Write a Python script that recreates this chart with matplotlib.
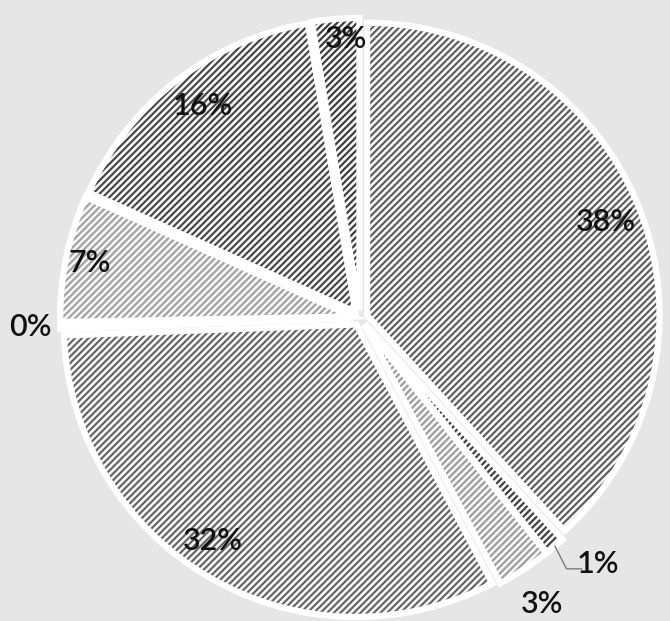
import numpy as np
import matplotlib
matplotlib.use("Agg")
import matplotlib.pyplot as plt

# slice values (per cent), clockwise from 12 o'clock
shares = [38.2, 1.1, 3.0, 32.1, 0.3, 7.0, 15.7, 2.6]
labels = ["38%", "1%", "3%", "32%", "0%", "7%", "16%", "3%"]
hatch_colors = ["#5a5a5a", "#3c3c3c", "#9a9a9a", "#626262",
                "#6a6a6a", "#a0a0a0", "#424242", "#383838"]
# label placement: fraction of the radius, plus an angle nudge in degrees
label_r = [0.88, 1.14, 1.13, 0.89, 1.10, 0.92, 0.88, 0.93]
label_nudge = [0, 3.5, -0.7, -3.4, 0, 0, -1, -1.7]

plt.rcParams["hatch.linewidth"] = 1.5
plt.rcParams["font.family"] = ["Lato", "DejaVu Sans"]

bg = "#e6e6e6"
fig = plt.figure(figsize=(6.7, 6.21), dpi=100, facecolor=bg)
ax = fig.add_axes([0, 0, 1, 1])
ax.set_facecolor(bg)

explode = [0.025] * len(shares)
wedges, _ = ax.pie(shares, startangle=90, counterclock=False, explode=explode,
                   radius=0.975, wedgeprops=dict(linewidth=0))
for w, c in zip(wedges, hatch_colors):
    w.set_facecolor("#f6f6f6")
    w.set_edgecolor(c)
    w.set_hatch("/" * 5)

# white outlines make the gaps between slices
ax.pie(shares, startangle=90, counterclock=False, explode=explode, radius=0.975,
       wedgeprops=dict(facecolor="none", edgecolor="white", linewidth=4.5))

for w, lab, r, nud in zip(wedges, labels, label_r, label_nudge):
    mid = np.deg2rad((w.theta1 + w.theta2) / 2 + nud)
    ax.text(r * np.cos(mid), r * np.sin(mid), lab, ha="center", va="center",
            fontsize=22, fontweight="semibold", color="#111111", zorder=5)

# leader line for the 1% slice
w1 = wedges[1]
mid = np.deg2rad((w1.theta1 + w1.theta2) / 2)
x0, y0 = 1.0 * np.cos(mid), 1.0 * np.sin(mid)
x1, y1 = 1.06 * np.cos(mid), 1.06 * np.sin(mid) - 0.03
ax.plot([x0, x1, x1 + 0.05], [y0, y1, y1], color="#7a7a7a", linewidth=1)

ax.set_xlim(-1.2, 1.033)
ax.set_ylim(-1.01, 1.06)
ax.set_aspect("equal")
ax.axis("off")

fig.savefig("out.png", dpi=100, facecolor=fig.get_facecolor())
